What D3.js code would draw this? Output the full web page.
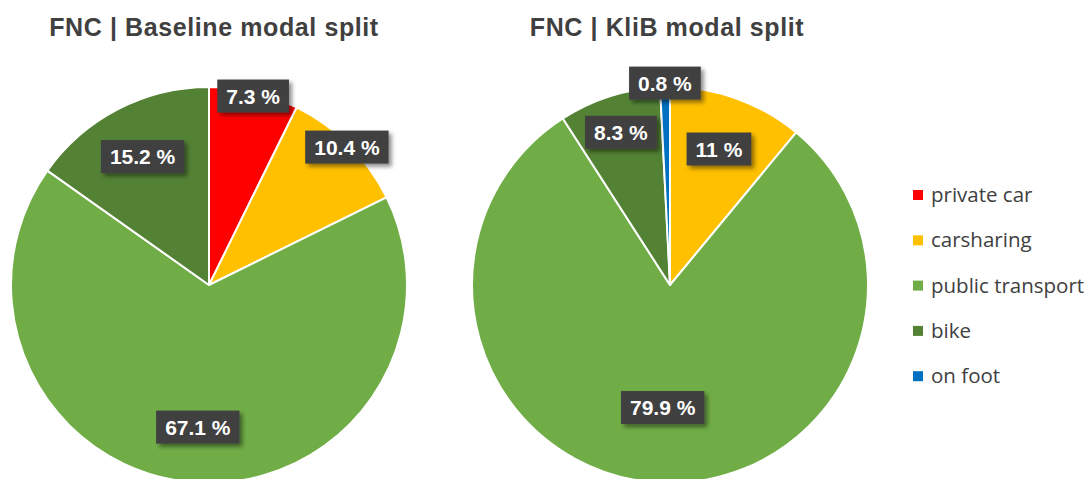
<!DOCTYPE html>
<html>
<head>
<meta charset="utf-8">
<script src="https://cdn.jsdelivr.net/npm/d3@7"></script>
<style>
  body { margin: 0; background: #fff; }
  svg { display: block; }
</style>
</head>
<body>
<svg class="chart"></svg>
<script>
var categories = ["private car", "carsharing", "public transport", "bike", "on foot"];
var baselineValues = [7.3, 10.4, 67.1, 15.2, 0];
var klibValues = [0, 11, 79.9, 8.3, 0.8];
var titles = ["FNC | Baseline modal split", "FNC | KliB modal split"];

var colors = ["#ff0000", "#ffc000", "#70ad47", "#548235", "#0070c0"];
// how far out (fraction of radius) each data label sits, like excel's best fit
var labelRadius = [
    [0.98, 0.985, 0.72, 0.73, 0],
    [0, 0.73, 0.62, 0.81, 1.02]
];

var width = 1089;
var height = 479;
var radius = 198;
var centers = [[209, 285], [670, 285]];

var svg = d3.select(".chart")
    .attr("width", width)
    .attr("height", height);

var defs = svg.append("defs");
var shadow = defs.append("filter")
    .attr("id", "shadow")
    .attr("x", "-20%").attr("y", "-30%")
    .attr("width", "150%").attr("height", "180%");
shadow.append("feDropShadow")
    .attr("dx", 3).attr("dy", 3)
    .attr("stdDeviation", 2)
    .attr("flood-color", "#000")
    .attr("flood-opacity", 0.45);

var color = d3.scaleOrdinal().domain(categories).range(colors);

var pie = d3.pie()
    .sort(null)
    .value(function(d){ return d.value; });

var arc = d3.arc()
    .innerRadius(0)
    .outerRadius(radius);

[baselineValues, klibValues].forEach(function(values, p){
    var data = categories.map(function(c, i){
        return {category: c, value: values[i], idx: i};
    });

    var g = svg.append("g")
        .attr("transform", "translate(" + centers[p][0] + "," + centers[p][1] + ")");

    g.selectAll(".slice")
        .data(pie(data).filter(function(d){ return d.data.value > 0; }))
        .enter()
        .append("path")
        .attr("class", "slice")
        .attr("d", arc)
        .attr("fill", function(d){ return color(d.data.category); })
        .attr("stroke", "#fff")
        .attr("stroke-width", 2)
        .attr("stroke-linejoin", "round");

    svg.append("text")
        .attr("x", centers[p][0] + (p === 0 ? 5 : -3))
        .attr("y", 36)
        .attr("text-anchor", "middle")
        .style("font-family", "'Liberation Sans', Arial, sans-serif")
        .style("font-weight", "bold")
        .style("font-size", "25px")
        .style("letter-spacing", "0.6px")
        .style("fill", "#404040")
        .text(titles[p]);

    var labels = g.selectAll(".lbl")
        .data(pie(data).filter(function(d){ return d.data.value > 0; }))
        .enter()
        .append("g")
        .attr("class", "lbl")
        .attr("transform", function(d){
            var r = radius * labelRadius[p][d.data.idx];
            var c = d3.arc().innerRadius(r).outerRadius(r).centroid(d);
            return "translate(" + c[0] + "," + c[1] + ")";
        });

    labels.append("rect")
        .attr("fill", "#404040")
        .attr("filter", "url(#shadow)");

    var texts = labels.append("text")
        .attr("text-anchor", "middle")
        .attr("dy", "0.36em")
        .style("font-family", "'Liberation Sans', Arial, sans-serif")
        .style("font-weight", "bold")
        .style("font-size", "21px")
        .style("fill", "#fff")
        .text(function(d){ return d.data.value + " %"; });

    texts.each(function(d){
        var w = this.getComputedTextLength() + 18;
        d3.select(this.parentNode).select("rect")
            .attr("x", -w / 2)
            .attr("y", -16.5)
            .attr("width", w)
            .attr("height", 33);
    });
});

var legend = svg.append("g")
    .attr("transform", "translate(913,195)");

var items = legend.selectAll(".item")
    .data(categories)
    .enter()
    .append("g")
    .attr("class", "item")
    .attr("transform", function(d, i){ return "translate(0," + (i * 45.3) + ")"; });

items.append("rect")
    .attr("x", 0)
    .attr("y", -5)
    .attr("width", 10)
    .attr("height", 10)
    .attr("fill", function(d){ return color(d); });

items.append("text")
    .attr("x", 18)
    .attr("dy", "0.35em")
    .style("font-family", "'Open Sans', 'Noto Sans', sans-serif")
    .style("font-size", "20.5px")
    .style("fill", "#404040")
    .text(function(d){ return d; });
</script>
</body>
</html>
